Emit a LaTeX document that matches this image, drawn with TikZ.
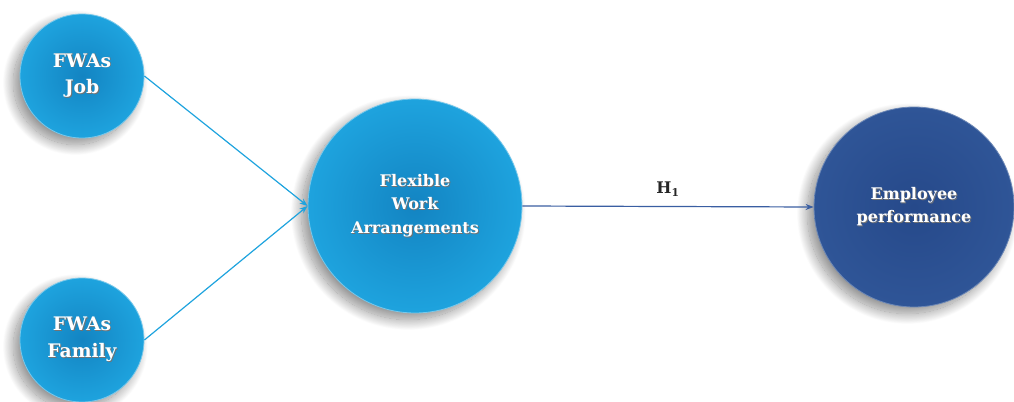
\documentclass[tikz,border=0pt]{standalone}
\usepackage{fontspec}
\setmainfont{DejaVu Serif}
\usetikzlibrary{arrows.meta,shadows.blur}
\definecolor{lblue}{HTML}{1EA3DE}
\definecolor{lbluein}{HTML}{1384C2}
\definecolor{dblue}{HTML}{2F5597}
\definecolor{dbluein}{HTML}{26498A}
\definecolor{hline}{HTML}{3A5EA2}
% white label text with a soft dark offset copy behind it
\newcommand\shtxt[1]{\leavevmode\rlap{\hspace{0.7pt}\raisebox{-0.7pt}{\textcolor{black!55}{#1}}}#1}
\tikzset{
  ball/.style={circle, inner sep=0pt, text=white, align=center,
    font=\bfseries\fontsize{12}{17.5}\selectfont,
    blur shadow={shadow xshift=-5pt, shadow yshift=-5pt, shadow blur radius=8pt,
      shadow blur steps=25, shadow opacity=45}},
  lightball/.style={ball, inner color=lbluein, outer color=lblue, draw=lblue!60!white, line width=0.6pt},
  smallball/.style={lightball, minimum size=93pt, font=\bfseries\fontsize{14}{20}\selectfont},
  darkball/.style={ball, inner color=dbluein, outer color=dblue, draw=dblue!70!white, line width=0.6pt},
  link/.style={line width=0.9pt, -{Stealth[length=6pt,width=4.5pt]}},
}
\begin{document}
\begin{tikzpicture}[x=0.75pt,y=0.75pt]
\useasboundingbox (0,0) rectangle (1014,401);
\node[smallball] (job) at (82,325) {\shtxt{FWAs}\\\shtxt{Job}};
\node[smallball] (family) at (82,61) {\shtxt{FWAs}\\\shtxt{Family}};
\node[lightball, minimum size=160.5pt] (flex) at (415,195) {\shtxt{Flexible}\\\shtxt{Work}\\\shtxt{Arrangements}};
\node[darkball, minimum size=150pt] (emp) at (914,194) {\shtxt{Employee}\\\shtxt{performance}};
\draw[link, lblue] (job.east) -- (flex.west);
\draw[link, lblue] (family.east) -- (flex.west);
\draw[link, hline] (flex.east) -- node[above=4pt, text=black!85, font=\bfseries\fontsize{12}{14}\selectfont] (h1) {H\textsubscript{1}} (emp.west);
\end{tikzpicture}
\end{document}
